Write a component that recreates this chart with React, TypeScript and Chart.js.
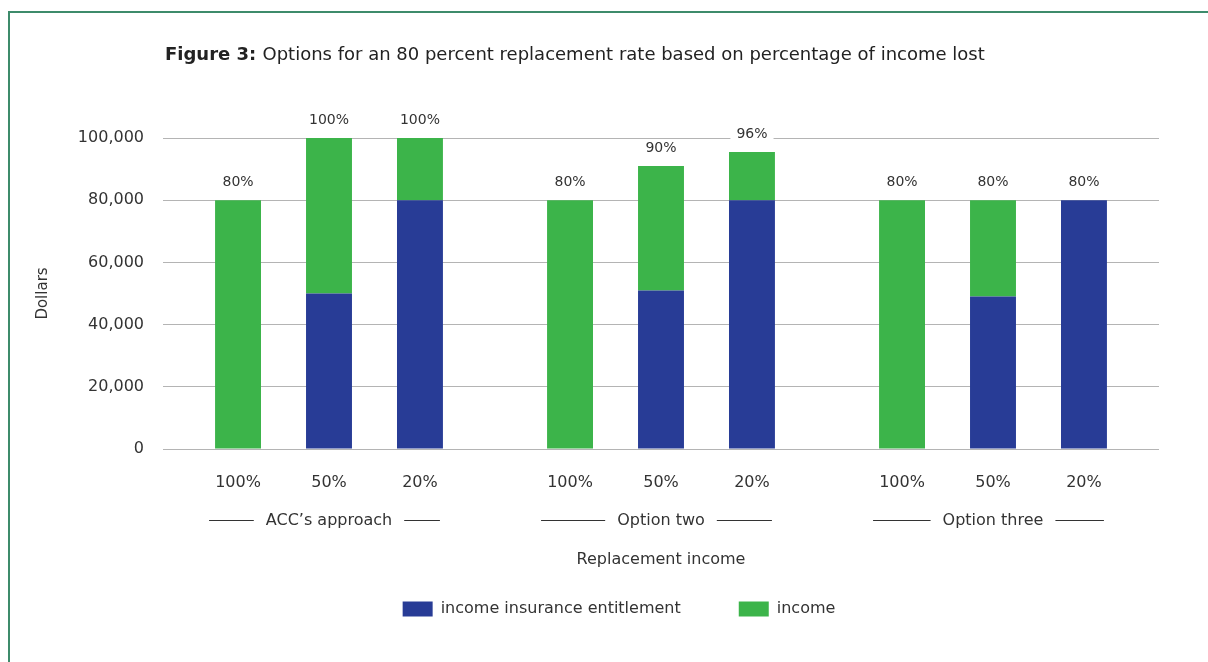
import React, { useEffect, useRef } from 'react';
import { Chart, registerables } from 'chart.js';

Chart.register(...registerables);

// ---- data ----
const groups = ['ACC’s approach', 'Option two', 'Option three'];
const replacementLevels = ['100%', '50%', '20%'];
// one value per bar, listed group by group (100%, 50%, 20%)
const entitlementValues = [0, 50000, 80000, 0, 51000, 80000, 0, 49000, 80000];
const incomeValues = [80000, 50000, 20000, 80000, 40000, 15500, 80000, 31000, 0];
const totalLabels = ['80%', '100%', '100%', '80%', '90%', '96%', '80%', '80%', '80%'];
const yTickValues = [0, 20000, 40000, 60000, 80000, 100000];
const seriesNames = ['income insurance entitlement', 'income'];
const titleBold = 'Figure 3:';
const titleRest = 'Options for an 80 percent replacement rate based on percentage of income lost';
const xAxisTitle = 'Replacement income';
const yAxisTitle = 'Dollars';

const FONT = "'DejaVu Sans', sans-serif";
const BLUE = '#283c96';
const GREEN = '#3cb44a';
const TEXT = '#333333';

const annotatePlugin = {
  id: 'annotate',
  afterDraw(chart: any) {
    const ctx = chart.ctx as CanvasRenderingContext2D;
    const area = chart.chartArea;
    const xs = chart.scales.x;
    ctx.save();

    // title
    ctx.textBaseline = 'middle';
    ctx.textAlign = 'left';
    ctx.fillStyle = '#222222';
    ctx.font = `bold 18px ${FONT}`;
    const tx = area.left + 2;
    const ty = area.top - 83;
    ctx.fillText(titleBold, tx, ty);
    const bw = ctx.measureText(titleBold + ' ').width;
    ctx.font = `18px ${FONT}`;
    ctx.fillText(titleRest, tx + bw, ty);

    // value labels + sub-category labels
    const nSub = replacementLevels.length;
    let barW = 0;
    for (let g = 0; g < groups.length; g++) {
      for (let k = 0; k < nSub; k++) {
        const i = g * nSub + k;
        const el: any = chart.getDatasetMeta(2 * k + 1).data[g];
        const elB: any = chart.getDatasetMeta(2 * k).data[g];
        barW = el.width;
        const top = Math.min(el.y, elB.y);
        ctx.font = `14px ${FONT}`;
        const lw = ctx.measureText(totalLabels[i]).width;
        ctx.fillStyle = '#ffffff';
        ctx.fillRect(el.x - lw / 2 - 6, top - 27, lw + 12, 18);
        ctx.fillStyle = TEXT;
        ctx.textAlign = 'center';
        ctx.fillText(totalLabels[i], el.x, top - 18);
        ctx.font = `16px ${FONT}`;
        ctx.fillText(replacementLevels[k], el.x, area.bottom + 34);
      }
    }

    // lines either side of the group labels
    ctx.strokeStyle = '#333333';
    ctx.lineWidth = 1;
    ctx.font = `16px ${FONT}`;
    const ly = Math.round(area.bottom + 71) + 0.5;
    for (let g = 0; g < groups.length; g++) {
      const cx = xs.getPixelForValue(g);
      const tw = ctx.measureText(groups[g]).width;
      const first: any = chart.getDatasetMeta(1).data[g];
      const last: any = chart.getDatasetMeta(2 * (nSub - 1) + 1).data[g];
      const x1 = first.x - barW / 2 - 6;
      const x2 = last.x + barW / 2 - 3;
      ctx.beginPath();
      ctx.moveTo(x1, ly);
      ctx.lineTo(cx - tw / 2 - 12, ly);
      ctx.moveTo(cx + tw / 2 + 12, ly);
      ctx.lineTo(x2, ly);
      ctx.stroke();
    }
    ctx.restore();
  },
};

export default function App() {
  const ref = useRef<HTMLCanvasElement | null>(null);

  useEffect(() => {
    const canvas = ref.current;
    if (!canvas) return;
    const nSub = replacementLevels.length;
    const datasets: any[] = [];
    for (let k = 0; k < nSub; k++) {
      datasets.push({
        label: seriesNames[0],
        data: groups.map((_, g) => entitlementValues[g * nSub + k]),
        backgroundColor: BLUE,
        borderWidth: 0,
        stack: 's' + k,
      });
      datasets.push({
        label: seriesNames[1],
        data: groups.map((_, g) => incomeValues[g * nSub + k]),
        backgroundColor: GREEN,
        borderWidth: 0,
        stack: 's' + k,
      });
    }

    const chart = new Chart(canvas, {
      type: 'bar',
      data: { labels: groups, datasets },
      options: {
        responsive: false,
        maintainAspectRatio: false,
        animation: false,
        devicePixelRatio: 1,
        layout: { padding: { left: 30, right: 0, top: 138, bottom: 35 } },
        datasets: {
          bar: { categoryPercentage: 0.822, barPercentage: 0.505 },
        },
        plugins: {
          tooltip: { enabled: false },
          legend: {
            position: 'bottom',
            align: 'center',
            labels: {
              boxWidth: 30,
              boxHeight: 15,
              padding: 58,
              color: TEXT,
              font: { family: FONT, size: 16 },
              filter: (item: any) => item.datasetIndex < 2,
            },
          },
        },
        scales: {
          x: {
            stacked: true,
            grid: { display: false },
            border: { display: false },
            ticks: {
              color: TEXT,
              font: { family: FONT, size: 16 },
              padding: 54,
            },
            title: {
              display: true,
              text: xAxisTitle,
              color: TEXT,
              font: { family: FONT, size: 16 },
              padding: { top: 0, bottom: -26 },
            },
            afterFit: (s: any) => {
              s.height = 94;
            },
          },
          y: {
            stacked: true,
            min: 0,
            max: 100000,
            afterBuildTicks: (s: any) => {
              s.ticks = yTickValues.map((v) => ({ value: v }));
            },
            ticks: {
              color: TEXT,
              font: { family: FONT, size: 16 },
              padding: 19,
              callback: (v: any) => Number(v).toLocaleString('en-US'),
            },
            grid: { color: '#b4b4b4', drawTicks: false, lineWidth: 1 },
            border: { display: false },
            title: {
              display: true,
              text: yAxisTitle,
              color: TEXT,
              font: { family: FONT, size: 15 },
              padding: { top: 4, bottom: 0 },
            },
            afterFit: (s: any) => {
              s.width = 133;
            },
          },
          y2: {
            type: 'linear',
            position: 'right',
            display: true,
            grid: { display: false },
            border: { display: false },
            ticks: { display: false },
            afterFit: (s: any) => {
              s.width = 49;
            },
          },
        },
      } as any,
      plugins: [annotatePlugin],
    });
    return () => chart.destroy();
  }, []);

  return (
    <div style={{ position: 'fixed', inset: 0, overflow: 'hidden', background: '#ffffff' }}>
      <div
        style={{
          position: 'absolute',
          left: 8,
          top: 11,
          width: 1400,
          height: 900,
          border: '2px solid #3d8b6b',
          boxSizing: 'border-box',
        }}
      />
      <canvas
        ref={ref}
        width={1208}
        height={662}
        style={{ position: 'absolute', left: 0, top: 0, width: 1208, height: 662 }}
      />
    </div>
  );
}
